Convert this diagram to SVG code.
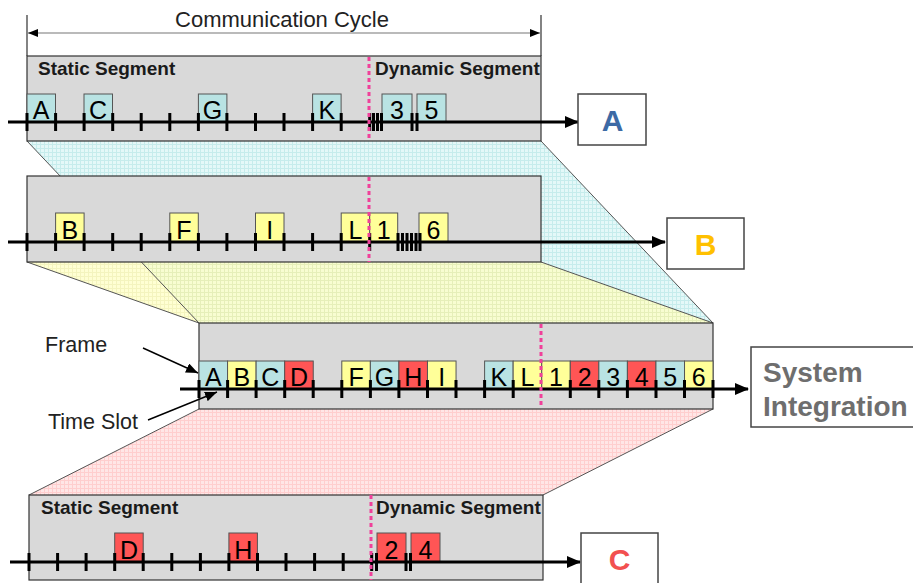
<svg xmlns="http://www.w3.org/2000/svg" width="913" height="583" viewBox="0 0 913 583">
  <style>
    text { font-family: "Liberation Sans", Arial, sans-serif; }
    .panel { fill: #d9d9d9; stroke: #333; stroke-width: 1.2; }
    .seg { font-size: 19px; font-weight: bold; fill: #1a1a1a; }
    .bus { stroke: #000; stroke-width: 3; fill: none; }
    .tick { stroke: #000; stroke-width: 3; fill: none; }
    .split { stroke: #f0409a; stroke-width: 3; stroke-dasharray: 4 3; fill: none; }
    .slot { stroke: #555; stroke-width: 1; }
    .cy { fill: #b9e3e3; }
    .ye { fill: #ffff99; }
    .rd { fill: #ff5555; }
    .lbl { font-size: 25px; fill: #000; text-anchor: middle; }
    .ecu { fill: #fff; stroke: #444; stroke-width: 1.5; }
    .ecut { font-size: 30px; font-weight: bold; text-anchor: middle; }
    .edge { stroke: #555; stroke-width: 1; }
    .note { font-size: 21.5px; fill: #222; }
  </style>
  <defs>
    <pattern id="grid-cyan" width="4" height="4" patternUnits="userSpaceOnUse">
      <rect width="4" height="4" fill="#e4f8f8"/>
      <path d="M0 0.5H4M0.5 0V4" stroke="#c6ecec" stroke-width="1"/>
    </pattern>
    <pattern id="grid-yellow" width="4" height="4" patternUnits="userSpaceOnUse">
      <rect width="4" height="4" fill="#ffffc4"/>
      <path d="M0 0.5H4M0.5 0V4" stroke="#f0f0a8" stroke-width="1"/>
    </pattern>
    <pattern id="grid-pink" width="4" height="4" patternUnits="userSpaceOnUse">
      <rect width="4" height="4" fill="#ffe6e6"/>
      <path d="M0 0.5H4M0.5 0V4" stroke="#ffcece" stroke-width="1"/>
    </pattern>
    <marker id="bus-head" markerUnits="userSpaceOnUse" markerWidth="14" markerHeight="12" refX="13" refY="6" orient="auto">
      <path d="M0 0L14 6L0 12Z" fill="#000"/>
    </marker>
    <marker id="dim-head" markerUnits="userSpaceOnUse" markerWidth="10" markerHeight="8" refX="10" refY="4" orient="auto-start-reverse">
      <path d="M0 0L10 4L0 8Z" fill="#000"/>
    </marker>
    <marker id="call-head" markerUnits="userSpaceOnUse" markerWidth="12" markerHeight="10" refX="12" refY="5" orient="auto">
      <path d="M0 0L12 5L0 10Z" fill="#000"/>
    </marker>
  </defs>

  <!-- projections of each node schedule onto the integrated schedule -->
  <g id="projections">
    <polygon points="27,141 541,141 713,323 199,323" fill="url(#grid-cyan)"/>
    <polygon points="27,262 541,262 713,323 199,323" fill="url(#grid-yellow)" opacity="0.75"/>
    <polygon points="199,409 713,409 543,495 29,495" fill="url(#grid-pink)"/>
    <path class="edge" d="M27 141L199 323M541 141L713 323M27 262L199 323M541 262L713 323M199 409L29 495M713 409L543 495"/>
  </g>

  <!-- communication cycle dimension -->
  <g id="cycle-dimension">
    <path d="M27 15V56M541 15V56" stroke="#333" stroke-width="1.2"/>
    <line x1="28" y1="33" x2="540" y2="33" stroke="#777" stroke-width="1.2" marker-start="url(#dim-head)" marker-end="url(#dim-head)"/>
    <text x="282" y="27" font-size="22" fill="#222" text-anchor="middle">Communication Cycle</text>
  </g>

  <!-- node A schedule -->
  <g id="node-a-schedule">
    <rect class="panel" x="27" y="56" width="514" height="85"/>
    <text class="seg" x="38" y="75">Static Segment</text>
    <text class="seg" x="375" y="75">Dynamic Segment</text>
    <rect class="slot cy" x="27" y="94" width="28.5" height="28"/>
    <rect class="slot cy" x="84" y="94" width="28.5" height="28"/>
    <rect class="slot cy" x="198.4" y="94" width="28.5" height="28"/>
    <rect class="slot cy" x="312.6" y="94" width="28.5" height="28"/>
    <rect class="slot cy" x="382" y="94" width="30" height="28"/>
    <rect class="slot cy" x="417" y="94" width="29" height="28"/>
    <text class="lbl" x="41" y="119">A</text>
    <text class="lbl" x="98" y="119">C</text>
    <text class="lbl" x="212.6" y="119">G</text>
    <text class="lbl" x="326.8" y="119">K</text>
    <text class="lbl" x="397" y="119">3</text>
    <text class="lbl" x="431.5" y="119">5</text>
    <line class="bus" x1="8" y1="122" x2="578" y2="122" marker-end="url(#bus-head)"/>
    <path class="tick" d="M27 113v18M55.6 113v18M84.1 113v18M112.7 113v18M141.2 113v18M169.8 113v18M198.4 113v18M226.9 113v18M255.5 113v18M284 113v18M312.6 113v18M341.2 113v18M369.7 113v18M373.5 113v18M377.5 113v18M381.5 113v18M412 113v18M417 113v18"/>
    <line class="split" x1="369" y1="57" x2="369" y2="141"/>
  </g>

  <!-- node B schedule -->
  <g id="node-b-schedule">
    <rect class="panel" x="27" y="176" width="514" height="86"/>
    <rect class="slot ye" x="55.6" y="213" width="28.5" height="29"/>
    <rect class="slot ye" x="169.8" y="213" width="28.5" height="29"/>
    <rect class="slot ye" x="255.5" y="213" width="28.5" height="29"/>
    <rect class="slot ye" x="341.2" y="213" width="28.5" height="29"/>
    <rect class="slot ye" x="369.7" y="213" width="28" height="29"/>
    <rect class="slot ye" x="419" y="213" width="29" height="29"/>
    <text class="lbl" x="69.8" y="239">B</text>
    <text class="lbl" x="184" y="239">F</text>
    <text class="lbl" x="269.7" y="239">I</text>
    <text class="lbl" x="355.4" y="239">L</text>
    <text class="lbl" x="383.7" y="239">1</text>
    <text class="lbl" x="433.5" y="239">6</text>
    <line class="bus" x1="8" y1="242" x2="665" y2="242" marker-end="url(#bus-head)"/>
    <path class="tick" d="M27 233v18M55.6 233v18M84.1 233v18M112.7 233v18M141.2 233v18M169.8 233v18M198.4 233v18M226.9 233v18M255.5 233v18M284 233v18M312.6 233v18M341.2 233v18M369.7 233v18M398 233v18M402.5 233v18M407 233v18M411.5 233v18M416 233v18M420 233v18"/>
    <line class="split" x1="369" y1="177" x2="369" y2="262"/>
  </g>

  <!-- integrated schedule -->
  <g id="integrated-schedule">
    <rect class="panel" x="199" y="323" width="514" height="86"/>
    <rect class="slot cy" x="199" y="361" width="28.56" height="28"/>
    <rect class="slot ye" x="227.56" y="361" width="28.56" height="28"/>
    <rect class="slot cy" x="256.12" y="361" width="28.56" height="28"/>
    <rect class="slot rd" x="284.68" y="361" width="28.56" height="28"/>
    <rect class="slot ye" x="341.8" y="361" width="28.56" height="28"/>
    <rect class="slot cy" x="370.36" y="361" width="28.56" height="28"/>
    <rect class="slot rd" x="398.92" y="361" width="28.56" height="28"/>
    <rect class="slot ye" x="427.48" y="361" width="28.56" height="28"/>
    <rect class="slot cy" x="484.6" y="361" width="28.56" height="28"/>
    <rect class="slot ye" x="513.16" y="361" width="28.56" height="28"/>
    <rect class="slot ye" x="541.72" y="361" width="28.56" height="28"/>
    <rect class="slot rd" x="570.28" y="361" width="28.56" height="28"/>
    <rect class="slot cy" x="598.84" y="361" width="28.56" height="28"/>
    <rect class="slot rd" x="627.4" y="361" width="28.56" height="28"/>
    <rect class="slot cy" x="655.96" y="361" width="28.56" height="28"/>
    <rect class="slot ye" x="684.52" y="361" width="28.48" height="28"/>
    <text class="lbl" x="213.3" y="386">A</text>
    <text class="lbl" x="241.8" y="386">B</text>
    <text class="lbl" x="270.4" y="386">C</text>
    <text class="lbl" x="299" y="386">D</text>
    <text class="lbl" x="356.1" y="386">F</text>
    <text class="lbl" x="384.6" y="386">G</text>
    <text class="lbl" x="413.2" y="386">H</text>
    <text class="lbl" x="441.8" y="386">I</text>
    <text class="lbl" x="498.9" y="386">K</text>
    <text class="lbl" x="527.4" y="386">L</text>
    <text class="lbl" x="556" y="386">1</text>
    <text class="lbl" x="584.6" y="386">2</text>
    <text class="lbl" x="613.1" y="386">3</text>
    <text class="lbl" x="641.7" y="386">4</text>
    <text class="lbl" x="670.2" y="386">5</text>
    <text class="lbl" x="698.8" y="386">6</text>
    <line class="bus" x1="180" y1="389" x2="748" y2="389" marker-end="url(#bus-head)"/>
    <path class="tick" d="M199 380v18M227.6 380v18M256.1 380v18M284.7 380v18M313.2 380v18M341.8 380v18M370.4 380v18M398.9 380v18M427.5 380v18M456 380v18M484.6 380v18M513.2 380v18M570.3 380v18M598.8 380v18M627.4 380v18M656 380v18M684.5 380v18M713 380v18"/>
    <line class="split" x1="541" y1="324" x2="541" y2="405"/>
  </g>

  <!-- node C schedule -->
  <g id="node-c-schedule">
    <rect class="panel" x="29" y="495" width="514" height="85"/>
    <text class="seg" x="41" y="514">Static Segment</text>
    <text class="seg" x="376" y="514">Dynamic Segment</text>
    <rect class="slot rd" x="114.7" y="533" width="28.5" height="29"/>
    <rect class="slot rd" x="228.9" y="533" width="28.5" height="29"/>
    <rect class="slot rd" x="377" y="533" width="29" height="29"/>
    <rect class="slot rd" x="411" y="533" width="29" height="29"/>
    <text class="lbl" x="129" y="559">D</text>
    <text class="lbl" x="243.2" y="559">H</text>
    <text class="lbl" x="391.5" y="559">2</text>
    <text class="lbl" x="425.5" y="559">4</text>
    <line class="bus" x1="10" y1="562" x2="580" y2="562" marker-end="url(#bus-head)"/>
    <path class="tick" d="M29 553v18M57.6 553v18M86.1 553v18M114.7 553v18M143.2 553v18M171.8 553v18M200.4 553v18M228.9 553v18M257.5 553v18M286 553v18M314.6 553v18M343.2 553v18M371.7 553v18M376.5 553v18M406 553v18M410.5 553v18"/>
    <line class="split" x1="371" y1="495" x2="371" y2="580"/>
  </g>

  <!-- node and integration labels -->
  <g id="label-a">
    <rect class="ecu" x="578" y="94" width="68" height="51"/>
    <text class="ecut" x="612.5" y="131" fill="#3d6aa5">A</text>
  </g>
  <g id="label-b">
    <rect class="ecu" x="667" y="218" width="77" height="51"/>
    <text class="ecut" x="705.5" y="255" fill="#ffc000">B</text>
  </g>
  <g id="label-c">
    <rect class="ecu" x="581" y="533" width="77" height="60"/>
    <text class="ecut" x="619.5" y="570" fill="#f25050">C</text>
  </g>
  <g id="label-system">
    <rect class="ecu" x="751" y="347" width="170" height="80"/>
    <text x="763" y="382" font-size="28" font-weight="bold" fill="#6e6e6e">System</text>
    <text x="763" y="416" font-size="28" font-weight="bold" fill="#6e6e6e">Integration</text>
  </g>

  <!-- callouts -->
  <g id="callouts">
    <text class="note" x="45" y="352">Frame</text>
    <text class="note" x="48" y="429">Time Slot</text>
  </g>
  <g id="connectors">
    <line x1="143" y1="348" x2="198" y2="373" stroke="#000" stroke-width="1.4" marker-end="url(#call-head)"/>
    <line x1="148" y1="420" x2="217" y2="392" stroke="#000" stroke-width="1.4" marker-end="url(#call-head)"/>
  </g>
</svg>
